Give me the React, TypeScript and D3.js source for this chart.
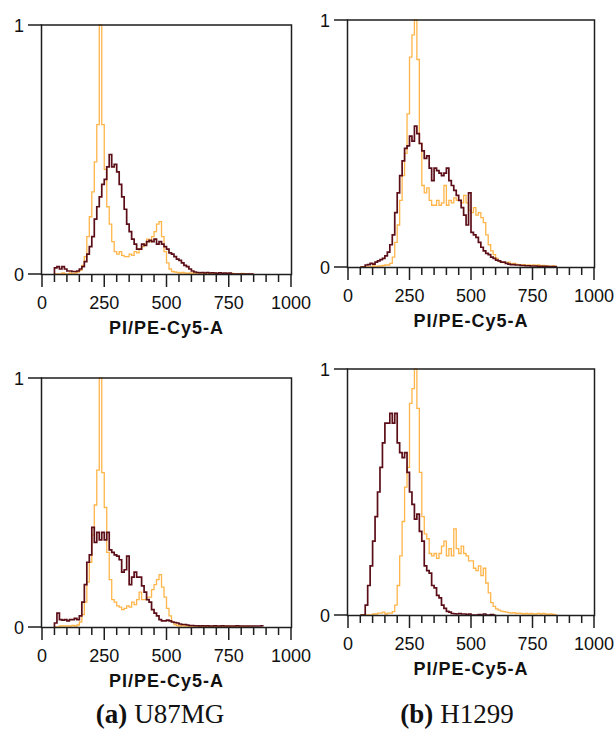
import React from "react";
import * as d3 from "d3";

// ---- data (normalized counts, bins of width 10 starting at 50) ----
const BIN_START = 50;
const BIN_WIDTH = 10;

const u87TopControl = [
  0, 0, 0, 0.004, 0, 0, 0.004, 0, 0.004, 0.008,
  0.015, 0.035, 0.07, 0.15, 0.23, 0.33, 0.45, 0.6, 1.0, 0.6,
  0.42, 0.27, 0.2, 0.13, 0.09, 0.08, 0.09, 0.075, 0.07, 0.07,
  0.08, 0.075, 0.09, 0.085, 0.1, 0.11, 0.12, 0.14, 0.13, 0.15,
  0.17, 0.2, 0.21, 0.15, 0.09, 0.045, 0.02, 0.01, 0.008, 0.006,
  0.004, 0.006, 0.004, 0.002, 0.004, 0.004, 0.002, 0.004, 0, 0.004,
  0.002, 0.004, 0, 0.002, 0.004, 0, 0.002, 0, 0.002, 0,
  0, 0.002, 0, 0, 0, 0.002, 0, 0, 0, 0,
];
const u87TopTreated = [
  0.025, 0.03, 0.02, 0.03, 0.02, 0.012, 0.012, 0.01, 0.01, 0.012,
  0.02, 0.03, 0.05, 0.08, 0.11, 0.15, 0.22, 0.27, 0.31, 0.36,
  0.38, 0.43, 0.48, 0.43, 0.44, 0.41, 0.36, 0.31, 0.26, 0.2,
  0.17, 0.14, 0.12, 0.1, 0.1, 0.12, 0.115, 0.13, 0.135, 0.13,
  0.14, 0.12, 0.13, 0.12, 0.11, 0.1, 0.085, 0.08, 0.07, 0.06,
  0.055, 0.045, 0.035, 0.03, 0.02, 0.012, 0.008, 0.006, 0.005, 0.006,
  0.004, 0.006, 0.004, 0.005, 0.004, 0.003, 0.005, 0.003, 0.004, 0.003,
  0.004, 0, 0, 0, 0, 0, 0, 0, 0, 0,
];
const h1299TopControl = [
  0, 0, 0, 0, 0, 0.004, 0, 0.004, 0.004, 0.006,
  0.008, 0.008, 0.015, 0.04, 0.1, 0.17, 0.27, 0.37, 0.46, 0.62,
  0.85, 0.94, 1.0, 0.84, 0.5, 0.33, 0.3, 0.32, 0.27, 0.25,
  0.25, 0.27, 0.25, 0.26, 0.33, 0.25, 0.27, 0.26, 0.28, 0.27,
  0.27, 0.26, 0.29, 0.26, 0.23, 0.22, 0.24, 0.21, 0.22, 0.2,
  0.18, 0.13, 0.09, 0.065, 0.05, 0.035, 0.025, 0.02, 0.018, 0.015,
  0.02, 0.012, 0.015, 0.012, 0.01, 0.008, 0.01, 0.006, 0.008, 0.006,
  0.008, 0.006, 0.008, 0.005, 0.006, 0.004, 0.004, 0.002, 0.004, 0,
];
const h1299TopTreated = [
  0, 0, 0.008, 0.01, 0.015, 0.012, 0.02, 0.025, 0.03, 0.035,
  0.045, 0.06, 0.09, 0.13, 0.22, 0.3, 0.37, 0.43, 0.48, 0.49,
  0.53, 0.51, 0.57, 0.54, 0.5, 0.47, 0.44, 0.45, 0.4, 0.35,
  0.4, 0.39, 0.38, 0.37, 0.38, 0.4, 0.35, 0.33, 0.31, 0.29,
  0.27, 0.24, 0.21, 0.17, 0.3, 0.14, 0.13, 0.12, 0.1, 0.08,
  0.065, 0.055, 0.05, 0.04, 0.035, 0.028, 0.025, 0.02, 0.02, 0.015,
  0.012, 0.01, 0.01, 0.008, 0.008, 0.006, 0.006, 0.005, 0.005, 0.004,
  0.004, 0.004, 0.003, 0.003, 0.003, 0.003, 0.002, 0.002, 0.002, 0.002,
];
const u87BottomControl = [
  0, 0, 0.004, 0.004, 0.004, 0.004, 0.004, 0.006, 0.004, 0.008,
  0.02, 0.05, 0.1, 0.18, 0.26, 0.37, 0.49, 0.63, 1.0, 0.62,
  0.48, 0.3, 0.19, 0.11, 0.1, 0.085, 0.08, 0.07, 0.075, 0.085,
  0.08, 0.1, 0.09, 0.11, 0.14, 0.11, 0.11, 0.12, 0.12, 0.15,
  0.17, 0.19, 0.21, 0.16, 0.12, 0.075, 0.045, 0.02, 0.01, 0.006,
  0.004, 0.006, 0.004, 0.004, 0.002, 0.004, 0.004, 0.002, 0.004, 0.002,
  0.004, 0.002, 0.004, 0.002, 0.002, 0.004, 0.002, 0.002, 0.002, 0.004,
  0.002, 0, 0.002, 0, 0, 0.002, 0, 0.002, 0, 0,
];
const u87BottomTreated = [
  0.016, 0.056, 0.03, 0.028, 0.03, 0.025, 0.03, 0.03, 0.035, 0.03,
  0.045, 0.1, 0.17, 0.26, 0.29, 0.4, 0.34, 0.38, 0.35, 0.38,
  0.35, 0.38, 0.31, 0.3, 0.29, 0.285, 0.27, 0.22, 0.23, 0.285,
  0.17, 0.2, 0.22, 0.2, 0.2, 0.165, 0.14, 0.11, 0.1, 0.07,
  0.056, 0.045, 0.03, 0.025, 0.025, 0.028, 0.025, 0.02, 0.018, 0.016,
  0.012, 0.01, 0.01, 0.008, 0.006, 0.006, 0.005, 0.005, 0.004, 0.005,
  0.004, 0.005, 0.004, 0.004, 0.005, 0.004, 0.004, 0.005, 0.004, 0.004,
  0.004, 0.004, 0.004, 0.005, 0.004, 0.004, 0.004, 0.004, 0.004, 0.004,
  0.004, 0.004, 0.004, 0.005,
];
const h1299BottomControl = [
  0, 0, 0, 0, 0, 0.004, 0.004, 0.008, 0.008, 0.012,
  0.004, 0.008, 0.008, 0.014, 0.04, 0.12, 0.24, 0.38, 0.52, 0.6,
  0.86, 0.92, 1.0, 0.84, 0.58, 0.4, 0.33, 0.31, 0.25, 0.24,
  0.25, 0.23, 0.25, 0.28, 0.3, 0.24, 0.27, 0.24, 0.35, 0.27,
  0.25, 0.28, 0.25, 0.24, 0.22, 0.22, 0.19, 0.18, 0.2, 0.16,
  0.19, 0.13, 0.09, 0.05, 0.035, 0.025, 0.02, 0.016, 0.014, 0.012,
  0.01, 0.008, 0.01, 0.006, 0.008, 0.006, 0.004, 0.006, 0.004, 0.006,
  0.004, 0.004, 0.006, 0.004, 0.006, 0.004, 0.002, 0.004, 0.002, 0,
];
const h1299BottomTreated = [
  0, 0, 0.04, 0.12, 0.2, 0.3, 0.4, 0.5, 0.6, 0.7,
  0.78, 0.78, 0.82, 0.78, 0.82, 0.7, 0.66, 0.64, 0.66, 0.58,
  0.5, 0.45, 0.39, 0.41, 0.34, 0.3, 0.2, 0.18, 0.17, 0.12,
  0.11, 0.08, 0.07, 0.04, 0.027, 0.015, 0.012, 0.006, 0.005, 0.004,
  0.006, 0.004, 0.004, 0.002, 0.004, 0, 0, 0, 0.002, 0,
  0.004, 0, 0, 0.002, 0,
];

const xDomain = [0, 1000];
const yDomain = [0, 1];
const xMajorTicks = [0, 250, 500, 750, 1000];
const xMinorStep = 50;
const yTicks = [0, 1];
const axisTitle = "PI/PE-Cy5-A";
const captionTags = ["(a)", "(b)"];
const captionNames = ["U87MG", "H1299"];

// ---- layout ----
const COLORS = { control: "#FFB54A", treated: "#5C0E18", axis: "#1e1e1e" };
const panels = [
  { left: 42, right: 291, top: 25, bottom: 274, control: u87TopControl, treated: u87TopTreated },
  { left: 348, right: 594, top: 20, bottom: 267, control: h1299TopControl, treated: h1299TopTreated },
  { left: 42, right: 291, top: 378, bottom: 627, control: u87BottomControl, treated: u87BottomTreated },
  { left: 348, right: 594, top: 369, bottom: 615, control: h1299BottomControl, treated: h1299BottomTreated },
];
const captionPos = [{ x: 160, y: 723 }, { x: 457, y: 723 }];

function stepPath(values: number[], x: d3.ScaleLinear<number, number>, y: d3.ScaleLinear<number, number>) {
  const pts: [number, number][] = [[BIN_START, 0]];
  values.forEach((v, i) => pts.push([BIN_START + i * BIN_WIDTH, v]));
  const end = BIN_START + values.length * BIN_WIDTH;
  pts.push([end, values[values.length - 1]]);
  const line = d3
    .line<[number, number]>()
    .x((d) => x(d[0]))
    .y((d) => y(d[1]))
    .curve(d3.curveStepAfter);
  return line(pts) || "";
}

function Panel({ p }: { p: (typeof panels)[number] }) {
  const x = d3.scaleLinear().domain(xDomain).range([p.left, p.right]);
  const y = d3.scaleLinear().domain(yDomain).range([p.bottom, p.top]);
  const minor = d3.range(xDomain[0], xDomain[1] + 1, xMinorStep);
  const tickFont = "'Liberation Sans', Arial, sans-serif";
  return (
    <g>
      <path d={stepPath(p.control, x, y)} fill="none" stroke={COLORS.control} strokeWidth={1.3} />
      <path d={stepPath(p.treated, x, y)} fill="none" stroke={COLORS.treated} strokeWidth={1.7} />
      <rect
        x={p.left - 0.5}
        y={p.top}
        width={p.right - p.left + 1}
        height={p.bottom - p.top + 0.5}
        fill="none"
        stroke={COLORS.axis}
        strokeWidth={1.5}
      />
      {minor.map((t) => {
        const major = xMajorTicks.includes(t);
        return (
          <line
            key={t}
            x1={x(t)}
            x2={x(t)}
            y1={p.bottom}
            y2={p.bottom + (major ? 13 : 8)}
            stroke={COLORS.axis}
            strokeWidth={1.5}
          />
        );
      })}
      {xMajorTicks.map((t) => (
        <text
          key={t}
          x={x(t)}
          y={p.bottom + 35}
          textAnchor="middle"
          fontFamily={tickFont}
          fontSize={18}
          fill="#111"
        >
          {t}
        </text>
      ))}
      {yTicks.map((t) => (
        <g key={t}>
          <line x1={p.left - 14} x2={p.left} y1={y(t)} y2={y(t)} stroke={COLORS.axis} strokeWidth={1.5} />
          <text
            x={p.left - 18}
            y={y(t) + 6.5}
            textAnchor="end"
            fontFamily={tickFont}
            fontSize={18}
            fill="#111"
          >
            {t}
          </text>
        </g>
      ))}
      <text
        x={(p.left + p.right) / 2}
        y={p.bottom + 60}
        textAnchor="middle"
        fontFamily={tickFont}
        fontWeight="bold"
        fontSize={18}
        letterSpacing={1}
        fill="#111"
      >
        {axisTitle}
      </text>
    </g>
  );
}

export default function App() {
  return (
    <svg
      width={616}
      height={731}
      style={{ position: "absolute", left: 0, top: 0, background: "#fff" }}
    >
      <rect x={0} y={0} width={616} height={731} fill="#fff" />
      {panels.map((p, i) => (
        <Panel key={i} p={p} />
      ))}
      {captionPos.map((c, i) => (
        <text
          key={i}
          x={c.x}
          y={c.y}
          textAnchor="middle"
          fontFamily="'Liberation Serif', 'Times New Roman', serif"
          fontSize={27}
          fill="#111"
        >
          <tspan fontWeight="bold">{captionTags[i]}</tspan>
          <tspan dx={7}>{captionNames[i]}</tspan>
        </text>
      ))}
    </svg>
  );
}
